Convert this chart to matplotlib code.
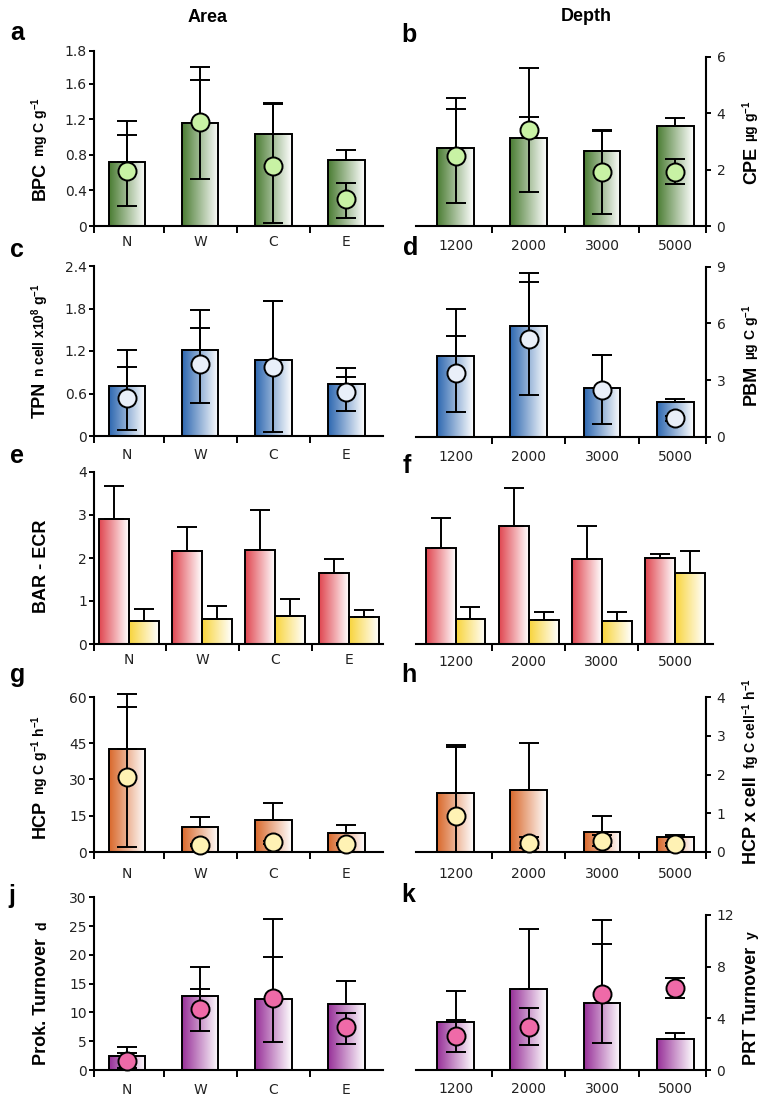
import numpy as np
import matplotlib
matplotlib.use("Agg")
import matplotlib.pyplot as plt
from matplotlib.colors import LinearSegmentedColormap

plt.rcParams['mathtext.fontset'] = 'custom'
plt.rcParams['mathtext.rm'] = 'Liberation Sans:bold'
plt.rcParams['mathtext.bf'] = 'Liberation Sans:bold'
plt.rcParams['mathtext.it'] = 'Liberation Sans:bold'
plt.rcParams['font.family'] = ['DejaVu Sans']

# ---------------- data ----------------
area_cats = ["N", "W", "C", "E"]
depth_cats = ["1200", "2000", "3000", "5000"]

# a: BPC by area
a_bar = [0.72, 1.16, 1.04, 0.74]
a_bar_up = [1.18, 1.79, 1.39, 0.86]
a_pt = [0.62, 1.17, 0.68, 0.30]
a_pt_lo = [0.23, 0.53, 0.03, 0.09]
a_pt_hi = [1.02, 1.64, 1.37, 0.48]
a_ticks = [0, 0.4, 0.8, 1.2, 1.6, 1.97]
a_ticklabels = ["0", "0.4", "0.8", "1.2", "1.6", "1.8"]

# b: CPE by depth
b_bar = [2.78, 3.11, 2.66, 3.54]
b_bar_up = [4.52, 3.87, 3.38, 3.81]
b_pt = [2.48, 3.40, 1.91, 1.93]
b_pt_lo = [0.83, 1.19, 0.43, 1.49]
b_pt_hi = [4.13, 5.59, 3.40, 2.36]
b_ticks = [0, 2, 4, 6]
b_ticklabels = ["0", "2", "4", "6"]

# c: TPN by area
c_bar = [0.71, 1.22, 1.08, 0.74]
c_bar_up = [1.22, 1.78, 1.90, 0.96]
c_pt = [0.54, 1.02, 0.98, 0.62]
c_pt_lo = [0.085, 0.47, 0.05, 0.35]
c_pt_hi = [0.98, 1.53, 1.91, 0.83]
c_ticks = [0, 0.6, 1.2, 1.8, 2.4]
c_ticklabels = ["0", "0.6", "1.2", "1.8", "2.4"]

# d: PBM by depth
d_bar = [4.29, 5.86, 2.59, 1.85]
d_bar_up = [6.76, 8.68, 4.30, 1.98]
d_pt = [3.35, 5.17, 2.47, 0.97]
d_pt_lo = [1.32, 2.21, 0.67, 0.85]
d_pt_hi = [5.35, 8.17, 4.32, 1.09]
d_ticks = [0, 3, 6, 9]
d_ticklabels = ["0", "3", "6", "9"]

# e: BAR (red) and ECR (yellow) by area
e_bar = [2.90, 2.17, 2.19, 1.66]
e_bar_up = [3.67, 2.73, 3.11, 1.98]
e_ecr = [0.54, 0.59, 0.65, 0.62]
e_ecr_up = [0.82, 0.89, 1.05, 0.78]
e_ticks = [0, 1, 2, 3, 4]
e_ticklabels = ["0", "1", "2", "3", "4"]

# f: BAR and ECR by depth
f_bar = [2.23, 2.75, 1.98, 2.01]
f_bar_up = [2.94, 3.63, 2.75, 2.10]
f_ecr = [0.57, 0.56, 0.54, 1.65]
f_ecr_up = [0.87, 0.75, 0.74, 2.17]

# g: HCP by area
g_bar = [42.7, 10.2, 13.3, 8.0]
g_bar_up = [65.4, 14.4, 20.2, 11.2]
g_pt = [30.9, 2.9, 4.0, 3.3]
g_pt_lo = [1.9, 2.4, 3.5, 2.8]
g_pt_hi = [59.9, 3.4, 4.5, 3.8]
g_ticks = [0, 15, 30, 45, 64]
g_ticklabels = ["0", "15", "30", "45", "60"]

# h: HCP x cell by depth
h_bar = [1.51, 1.60, 0.52, 0.37]
h_bar_up = [2.76, 2.81, 0.92, 0.43]
h_pt = [0.92, 0.23, 0.28, 0.19]
h_pt_lo = [0.0, 0.09, 0.14, 0.15]
h_pt_hi = [2.70, 0.37, 0.42, 0.23]
h_ticks = [0, 1, 2, 3, 4]
h_ticklabels = ["0", "1", "2", "3", "4"]

# j: Prokaryote turnover by area
j_bar = [2.43, 12.85, 12.28, 11.46]
j_bar_up = [4.05, 17.95, 26.23, 15.4]
j_pt = [1.56, 10.6, 12.56, 7.53]
j_pt_lo = [0.3, 6.77, 4.8, 4.52]
j_pt_hi = [3.0, 14.07, 19.57, 9.96]
j_ticks = [0, 5, 10, 15, 20, 25, 30]
j_ticklabels = ["0", "5", "10", "15", "20", "25", "30"]

# k: PRT turnover by depth
k_bar = [3.69, 6.25, 5.16, 2.37]
k_bar_up = [6.14, 10.92, 11.61, 2.84]
k_pt = [2.66, 3.35, 5.88, 6.37]
k_pt_lo = [1.37, 1.91, 2.06, 5.6]
k_pt_hi = [3.87, 4.83, 9.73, 7.12]
k_ticks = [0, 4, 8, 12]
k_ticklabels = ["0", "4", "8", "12"]

# ---------------- styles ----------------
GREEN, GREEN_PT = "#4a7c32", "#c8f2a4"
BLUE, BLUE_PT = "#2d67b0", "#e9eff9"
RED, YELLOW = "#e0454f", "#f8d43a"
ORANGE, ORANGE_PT = "#d9682b", "#fff2b4"
PURPLE, PINK = "#972f98", "#ef6aa8"
TICKC = "#222222"
LW = 1.4

W, H = 766, 1103
fig = plt.figure(figsize=(W / 100, H / 100), dpi=100)
fig.patch.set_facecolor("white")


def make_ax(l, r, t, b):
    return fig.add_axes([l / W, 1 - b / H, (r - l) / W, (b - t) / H])


def grad_bar(ax, x, h, w, color):
    cmap = LinearSegmentedColormap.from_list("g", [color, "white"])
    grad = np.linspace(0, 1, 256).reshape(1, -1)
    ax.imshow(grad, cmap=cmap, extent=(x - w / 2, x + w / 2, 0, h),
              aspect="auto", zorder=1, interpolation="bilinear")
    ax.bar(x, h, width=w, facecolor="none", edgecolor="k", linewidth=LW, zorder=2)


def bar_err(ax, x, v, up):
    ax.errorbar(x, v, yerr=[[0], [up - v]], fmt="none", ecolor="k",
                elinewidth=LW, capsize=7, capthick=LW, zorder=3, clip_on=False)


def pt_err(ax, x, v, lo, hi, color):
    ax.errorbar(x, v, yerr=[[v - lo], [hi - v]], fmt="o", ms=13,
                mfc=color, mec="k", mew=LW, ecolor="k", elinewidth=LW,
                capsize=7, capthick=LW, zorder=4, clip_on=False)


def style(ax, side, xlim, cats, ylim, yticks=None, yticklabels=None, xpad_px=10):
    ax.set_xlim(*xlim)
    ax.set_ylim(*ylim)
    ax.patch.set_alpha(0)
    ax.spines["top"].set_visible(False)
    if side == "left":
        ax.spines["right"].set_visible(False)
    elif side == "right":
        ax.spines["left"].set_visible(False)
        ax.yaxis.tick_right()
    else:
        ax.spines["left"].set_visible(False)
        ax.spines["right"].set_visible(False)
        ax.set_yticks([])
    for s in ["left", "right", "bottom"]:
        ax.spines[s].set_linewidth(1.5)
    ax.set_xticks(range(len(cats)))
    ax.set_xticklabels(cats)
    minor = [0.5, 1.5, 2.5]
    if side == "left":
        minor = [xlim[0]] + minor
    elif side == "right":
        minor = minor + [xlim[1]]
    ax.set_xticks(minor, minor=True)
    ax.tick_params(axis="x", which="major", length=0, pad=xpad_px * 0.72,
                   labelsize=10, labelcolor=TICKC)
    ax.tick_params(axis="x", which="minor", length=5, width=LW, direction="out")
    if side != "none":
        ax.set_yticks(yticks)
        ax.set_yticklabels(yticklabels)
        ax.tick_params(axis="y", length=3.6, width=LW, direction="out",
                       labelsize=10, labelcolor=TICKC,
                       pad=1.5 if side == "left" else 4)


def single_panel(ax, side, xlim, cats, bars, bar_up, pts, lo, hi, color, pcolor,
                 ylim, yticks, yticklabels, xpad_px):
    for i in range(len(cats)):
        grad_bar(ax, i, bars[i], 0.5, color)
        bar_err(ax, i, bars[i], bar_up[i])
        pt_err(ax, i, pts[i], lo[i], hi[i], pcolor)
    style(ax, side, xlim, cats, ylim, yticks, yticklabels, xpad_px)


def group_panel(ax, side, xlim, cats, r, r_up, y, y_up, ylim, yticks, yticklabels, xpad_px):
    w = 0.41
    for i in range(len(cats)):
        grad_bar(ax, i - w / 2, r[i], w, RED)
        bar_err(ax, i - w / 2, r[i], r_up[i])
        grad_bar(ax, i + w / 2, y[i], w, YELLOW)
        bar_err(ax, i + w / 2, y[i], y_up[i])
    style(ax, side, xlim, cats, ylim, yticks, yticklabels, xpad_px)


LX = (-0.45, 3.5)
RX = (-0.54, 3.42)

ax_a = make_ax(94, 383, 51, 226)
single_panel(ax_a, "left", LX, area_cats, a_bar, a_bar_up, a_pt, a_pt_lo, a_pt_hi,
             GREEN, GREEN_PT, (0, 1.97), a_ticks, a_ticklabels, 9)
ax_b = make_ax(416, 706, 56.7, 226)
single_panel(ax_b, "right", RX, depth_cats, b_bar, b_bar_up, b_pt, b_pt_lo, b_pt_hi,
             GREEN, GREEN_PT, (0, 6), b_ticks, b_ticklabels, 13)
ax_c = make_ax(94, 383, 266, 436)
single_panel(ax_c, "left", LX, area_cats, c_bar, c_bar_up, c_pt, c_pt_lo, c_pt_hi,
             BLUE, BLUE_PT, (0, 2.4), c_ticks, c_ticklabels, 12)
ax_d = make_ax(416, 706, 266.7, 436.7)
single_panel(ax_d, "right", RX, depth_cats, d_bar, d_bar_up, d_pt, d_pt_lo, d_pt_hi,
             BLUE, BLUE_PT, (0, 9), d_ticks, d_ticklabels, 13)
ax_e = make_ax(94, 383, 472, 644)
group_panel(ax_e, "left", (-0.48, 3.47), area_cats, e_bar, e_bar_up, e_ecr, e_ecr_up,
            (0, 4), e_ticks, e_ticklabels, 9)
ax_f = make_ax(416, 713, 472, 644)
group_panel(ax_f, "none", (-0.54, 3.52), depth_cats, f_bar, f_bar_up, f_ecr, f_ecr_up,
            (0, 4), None, None, 11)
ax_g = make_ax(94, 383, 697, 852)
single_panel(ax_g, "left", LX, area_cats, g_bar, g_bar_up, g_pt, g_pt_lo, g_pt_hi,
             ORANGE, ORANGE_PT, (0, 64), g_ticks, g_ticklabels, 15)
ax_h = make_ax(416, 706, 697.3, 851.7)
single_panel(ax_h, "right", RX, depth_cats, h_bar, h_bar_up, h_pt, h_pt_lo, h_pt_hi,
             ORANGE, ORANGE_PT, (0, 4), h_ticks, h_ticklabels, 15)
ax_j = make_ax(94, 383, 897.3, 1070)
single_panel(ax_j, "left", LX, area_cats, j_bar, j_bar_up, j_pt, j_pt_lo, j_pt_hi,
             PURPLE, PINK, (0, 30), j_ticks, j_ticklabels, 13)
ax_k = make_ax(416, 706, 915, 1070)
single_panel(ax_k, "right", RX, depth_cats, k_bar, k_bar_up, k_pt, k_pt_lo, k_pt_hi,
             PURPLE, PINK, (0, 12), k_ticks, k_ticklabels, 12)

# ---------------- texts ----------------
LABEL_FONT = "Liberation Sans"
renderer = fig.canvas.get_renderer()


def ylabel(parts, xbase_px, ycenter_px, gap_px=5):
    texts = []
    for s, size in parts:
        t = fig.text(0, 0, s, fontsize=size, fontweight="bold", family=LABEL_FONT,
                     rotation=90, rotation_mode="anchor", ha="left", va="baseline")
        texts.append(t)
    lens = [t.get_window_extent(renderer).height for t in texts]
    total = sum(lens) + gap_px * (len(texts) - 1)
    y = ycenter_px + total / 2
    for t, L in zip(texts, lens):
        t.set_position((xbase_px / W, 1 - y / H))
        y -= L + gap_px


MAIN, UNIT = 13, 10
ylabel([("BPC", MAIN), ("mg C g$^{-1}$", UNIT)], 45, 148.5)
ylabel([("CPE", MAIN), ("µg g$^{-1}$", UNIT)], 756, 142.5)
ylabel([("TPN", MAIN), ("n cell x10$^{8}$ g$^{-1}$", UNIT)], 45, 351)
ylabel([("PBM", MAIN), ("µg C g$^{-1}$", UNIT)], 756, 355)
ylabel([("BAR - ECR", MAIN)], 46, 566.7)
ylabel([("HCP", MAIN), ("ng C g$^{-1}$ h$^{-1}$", UNIT)], 45, 776.7)
ylabel([("HCP x cell", MAIN), ("fg C cell$^{-1}$ h$^{-1}$", UNIT)], 756, 771, gap_px=7)
ylabel([("Prok. Turnover", MAIN), ("d", UNIT)], 46, 993, gap_px=8)
ylabel([("PRT Turnover", MAIN), ("y", UNIT)], 756, 998, gap_px=8)

fig.text(208 / W, 1 - 21.5 / H, "Area", fontsize=13, fontweight="bold",
         family=LABEL_FONT, ha="center", va="baseline")
fig.text(586 / W, 1 - 21 / H, "Depth", fontsize=13, fontweight="bold",
         family=LABEL_FONT, ha="center", va="baseline")

letters = [("a", 10, 40), ("b", 401, 42), ("c", 10, 257), ("d", 403, 255),
           ("e", 10, 463), ("f", 403, 473), ("g", 10, 682), ("h", 401, 682),
           ("j", 8, 903), ("k", 401, 902)]
for s, x, y in letters:
    fig.text(x / W, 1 - y / H, s, fontsize=18, fontweight="bold",
             family=LABEL_FONT, ha="left", va="baseline")

fig.savefig("out.png", dpi=100, facecolor="white")
